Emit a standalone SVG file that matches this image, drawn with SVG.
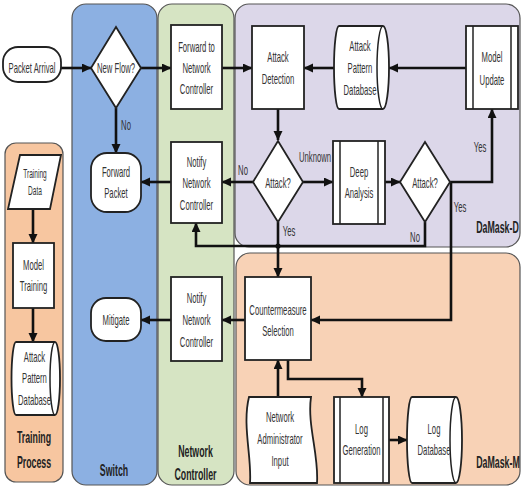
<svg xmlns="http://www.w3.org/2000/svg" width="523" height="488" viewBox="0 0 523 488">
  <style>
    .lane { stroke: #555; stroke-width: 1.2; }
    .node { fill: #ffffff; stroke: #222; stroke-width: 1.8; }
    .inner { fill: none; stroke: #222; stroke-width: 1.5; }
    .t { font-family: "Liberation Sans", Arial, sans-serif; font-size: 14px; fill: #333; text-anchor: middle; }
    .ts { font-family: "Liberation Sans", Arial, sans-serif; font-size: 12px; fill: #333; text-anchor: middle; }
    .b { font-family: "Liberation Sans", Arial, sans-serif; font-size: 16px; font-weight: bold; fill: #222; text-anchor: middle; }
    .c { fill: none; stroke: #111; stroke-width: 2.6; }
  </style>
  <defs>
    <marker id="arr" markerWidth="10" markerHeight="10" refX="9" refY="4.5" orient="auto" markerUnits="userSpaceOnUse">
      <path d="M0,0 L9.5,4.5 L0,9 Z" fill="#111"/>
    </marker>
  </defs>

  <rect width="523" height="488" fill="#ffffff"/>

  <!-- swimlanes -->
  <g id="lanes">
    <rect class="lane" x="5" y="143" width="58" height="339" rx="11" fill="#f7c6a0"/>
    <rect class="lane" x="72" y="4" width="85" height="481" rx="14" fill="#8cb0e2"/>
    <rect class="lane" x="158" y="4" width="76" height="481" rx="14" fill="#d6e4c3"/>
    <rect class="lane" x="235" y="4" width="285" height="243" rx="14" fill="#dcd7e9"/>
    <rect class="lane" x="236" y="253" width="284" height="232" rx="14" fill="#f8d2b6"/>
    <text class="b" transform="translate(34,437) scale(0.55,1)"><tspan x="0" y="6">Training</tspan><tspan x="0" y="31">Process</tspan></text>
    <text class="b" transform="translate(114,470) scale(0.55,1)"><tspan x="0" y="6">Switch</tspan></text>
    <text class="b" transform="translate(195.5,451) scale(0.55,1)"><tspan x="0" y="6">Network</tspan><tspan x="0" y="29">Controller</tspan></text>
    <text class="b" transform="translate(497.5,227) scale(0.55,1)"><tspan x="0" y="6">DaMask-D</tspan></text>
    <text class="b" transform="translate(498,462) scale(0.55,1)"><tspan x="0" y="6">DaMask-M</tspan></text>
  </g>

  <!-- connectors -->
  <g id="connectors">
    <line class="c" x1="61" y1="68" x2="91" y2="68" marker-end="url(#arr)"/>
    <line class="c" x1="141" y1="68" x2="171" y2="68" marker-end="url(#arr)"/>
    <line class="c" x1="222" y1="68" x2="252" y2="68" marker-end="url(#arr)"/>
    <line class="c" x1="334" y1="68" x2="304" y2="68" marker-end="url(#arr)"/>
    <line class="c" x1="466" y1="68" x2="389" y2="68" marker-end="url(#arr)"/>
    <line class="c" x1="116" y1="108" x2="116" y2="153" marker-end="url(#arr)"/>
    <line class="c" x1="278" y1="109" x2="278" y2="140" marker-end="url(#arr)"/>
    <line class="c" x1="253" y1="182" x2="222" y2="182" marker-end="url(#arr)"/>
    <line class="c" x1="171" y1="182" x2="141" y2="182" marker-end="url(#arr)"/>
    <line class="c" x1="303" y1="182" x2="333" y2="182" marker-end="url(#arr)"/>
    <line class="c" x1="385" y1="182" x2="400" y2="182" marker-end="url(#arr)"/>
    <polyline class="c" points="450,182 492,182 492,109" marker-end="url(#arr)"/>
    <polyline class="c" points="451,182 451,320 311,320" marker-end="url(#arr)"/>
    <polyline class="c" points="425,222 425,246 196,246 196,223" marker-end="url(#arr)"/>
    <line class="c" x1="278" y1="222" x2="278" y2="277" marker-end="url(#arr)"/>
    <circle cx="278" cy="246" r="2.6" fill="#111"/>
    <line class="c" x1="245" y1="320" x2="222" y2="320" marker-end="url(#arr)"/>
    <line class="c" x1="171" y1="320" x2="141" y2="320" marker-end="url(#arr)"/>
    <line class="c" x1="278" y1="397" x2="278" y2="360" marker-end="url(#arr)"/>
    <polyline class="c" points="288,360 288,379 362,379 362,397" marker-end="url(#arr)"/>
    <line class="c" x1="389" y1="440" x2="407" y2="440" marker-end="url(#arr)"/>
    <line class="c" x1="33" y1="209" x2="33" y2="243" marker-end="url(#arr)"/>
    <line class="c" x1="33" y1="308" x2="33" y2="342" marker-end="url(#arr)"/>
    <text class="t" transform="translate(126,125) scale(0.55,1)"><tspan x="0" y="5">No</tspan></text>
    <text class="t" transform="translate(243,170) scale(0.55,1)"><tspan x="0" y="5">No</tspan></text>
    <text class="t" transform="translate(315,157) scale(0.55,1)"><tspan x="0" y="5">Unknown</tspan></text>
    <text class="t" transform="translate(480,147) scale(0.55,1)"><tspan x="0" y="5">Yes</tspan></text>
    <text class="t" transform="translate(460,207) scale(0.55,1)"><tspan x="0" y="5">Yes</tspan></text>
    <text class="t" transform="translate(415,237) scale(0.55,1)"><tspan x="0" y="5">No</tspan></text>
    <text class="t" transform="translate(289,231) scale(0.55,1)"><tspan x="0" y="5">Yes</tspan></text>
  </g>

  <!-- switch -->
  <g id="packet-arrival">
    <rect class="node" x="3" y="47" width="58" height="35" rx="15"/>
    <text class="t" transform="translate(32,68) scale(0.55,1)"><tspan x="0" y="5">Packet Arrival</tspan></text>
  </g>
  <g id="new-flow">
    <polygon class="node" points="116,27 141,68 116,108 91,68"/>
    <text class="t" transform="translate(116,68) scale(0.55,1)"><tspan x="0" y="5">New Flow?</tspan></text>
  </g>
  <g id="forward-packet">
    <rect class="node" x="91" y="153" width="50" height="59" rx="16"/>
    <text class="t" transform="translate(116,182.5) scale(0.55,1)"><tspan x="0" y="-5.8">Forward</tspan><tspan x="0" y="15.8">Packet</tspan></text>
  </g>
  <g id="mitigate">
    <rect class="node" x="91" y="298" width="50" height="43" rx="15"/>
    <text class="t" transform="translate(116,320) scale(0.55,1)"><tspan x="0" y="5">Mitigate</tspan></text>
  </g>

  <!-- network controller -->
  <g id="forward-to-nc">
    <rect class="node" x="171" y="25" width="51" height="84"/>
    <text class="t" transform="translate(196.5,68) scale(0.55,1)"><tspan x="0" y="-16.5">Forward to</tspan><tspan x="0" y="5">Network</tspan><tspan x="0" y="26.5">Controller</tspan></text>
  </g>
  <g id="notify-nc-1">
    <rect class="node" x="171" y="142" width="51" height="81"/>
    <text class="t" transform="translate(196.5,183.3) scale(0.55,1)"><tspan x="0" y="-16.7">Notify</tspan><tspan x="0" y="5">Network</tspan><tspan x="0" y="26.7">Controller</tspan></text>
  </g>
  <g id="notify-nc-2">
    <rect class="node" x="171" y="277" width="51" height="84"/>
    <text class="t" transform="translate(196.5,320) scale(0.55,1)"><tspan x="0" y="-16.7">Notify</tspan><tspan x="0" y="5">Network</tspan><tspan x="0" y="26.7">Controller</tspan></text>
  </g>

  <!-- DaMask-D -->
  <g id="attack-detection">
    <rect class="node" x="252" y="26" width="52" height="83"/>
    <text class="t" transform="translate(278,68) scale(0.55,1)"><tspan x="0" y="-6">Attack</tspan><tspan x="0" y="16">Detection</tspan></text>
  </g>
  <g id="attack-pattern-db">
    <path class="node" d="M339,26 L383,26 A6,41.5 0 0 1 383,109 L339,109 A5,41.5 0 0 1 339,26 Z"/>
    <path class="inner" d="M383,26 A6,41.5 0 0 0 383,109"/>
    <text class="t" transform="translate(360,68) scale(0.55,1)"><tspan x="0" y="-17.5">Attack</tspan><tspan x="0" y="5">Pattern</tspan><tspan x="0" y="27.5">Database</tspan></text>
  </g>
  <g id="model-update">
    <rect class="node" x="466" y="26" width="52" height="83"/>
    <line class="inner" x1="473" y1="26" x2="473" y2="109"/>
    <line class="inner" x1="511" y1="26" x2="511" y2="109"/>
    <text class="t" transform="translate(492,68) scale(0.55,1)"><tspan x="0" y="-6">Model</tspan><tspan x="0" y="17">Update</tspan></text>
  </g>
  <g id="attack-check-1">
    <polygon class="node" points="278,141 303,182 278,222 253,182"/>
    <text class="t" transform="translate(278,183) scale(0.55,1)"><tspan x="0" y="5">Attack?</tspan></text>
  </g>
  <g id="deep-analysis">
    <rect class="node" x="333" y="141" width="52" height="83"/>
    <line class="inner" x1="340" y1="141" x2="340" y2="224"/>
    <line class="inner" x1="378" y1="141" x2="378" y2="224"/>
    <text class="t" transform="translate(359,182.5) scale(0.55,1)"><tspan x="0" y="-5.8">Deep</tspan><tspan x="0" y="15.8">Analysis</tspan></text>
  </g>
  <g id="attack-check-2">
    <polygon class="node" points="425,142 450,182 425,222 400,182"/>
    <text class="t" transform="translate(425,183) scale(0.55,1)"><tspan x="0" y="5">Attack?</tspan></text>
  </g>

  <!-- DaMask-M -->
  <g id="countermeasure">
    <rect class="node" x="245" y="277" width="66" height="83"/>
    <text class="t" transform="translate(278,320.5) scale(0.55,1)"><tspan x="0" y="-5.5">Countermeasure</tspan><tspan x="0" y="15.5">Selection</tspan></text>
  </g>
  <g id="admin-input">
    <path class="node" d="M249,397 L311,397 C307,425 319,455 317,483 L250,483 C252,458 242,425 249,397 Z"/>
    <text class="t" transform="translate(280,439) scale(0.55,1)"><tspan x="0" y="-17.5">Network</tspan><tspan x="0" y="5">Administrator</tspan><tspan x="0" y="27.5">Input</tspan></text>
  </g>
  <g id="log-generation">
    <rect class="node" x="334" y="397" width="55" height="86"/>
    <line class="inner" x1="340" y1="397" x2="340" y2="483"/>
    <line class="inner" x1="383" y1="397" x2="383" y2="483"/>
    <text class="t" transform="translate(361.5,440) scale(0.55,1)"><tspan x="0" y="-6">Log</tspan><tspan x="0" y="15">Generation</tspan></text>
  </g>
  <g id="log-database">
    <path class="node" d="M412,397 L456,397 A6,43 0 0 1 456,483 L412,483 A5,43 0 0 1 412,397 Z"/>
    <path class="inner" d="M456,397 A6,43 0 0 0 456,483"/>
    <text class="t" transform="translate(434,440) scale(0.55,1)"><tspan x="0" y="-6">Log</tspan><tspan x="0" y="15.5">Database</tspan></text>
  </g>

  <!-- training process -->
  <g id="training-data">
    <polygon class="node" points="20,155 61,155 50,209 8,209"/>
    <text class="ts" transform="translate(35,182) scale(0.55,1)"><tspan x="0" y="-4.5">Training</tspan><tspan x="0" y="13">Data</tspan></text>
  </g>
  <g id="model-training">
    <rect class="node" x="13" y="243" width="41" height="65"/>
    <text class="t" transform="translate(33.5,275.5) scale(0.55,1)"><tspan x="0" y="-5.5">Model</tspan><tspan x="0" y="15.5">Training</tspan></text>
  </g>
  <g id="training-pattern-db">
    <path class="node" d="M16,342 L55,342 A5,36.5 0 0 1 55,415 L16,415 A4.5,36.5 0 0 1 16,342 Z"/>
    <path class="inner" d="M55,342 A5,36.5 0 0 0 55,415"/>
    <text class="t" transform="translate(34.5,378.3) scale(0.55,1)"><tspan x="0" y="-16.7">Attack</tspan><tspan x="0" y="5">Pattern</tspan><tspan x="0" y="26.7">Database</tspan></text>
  </g>
</svg>
